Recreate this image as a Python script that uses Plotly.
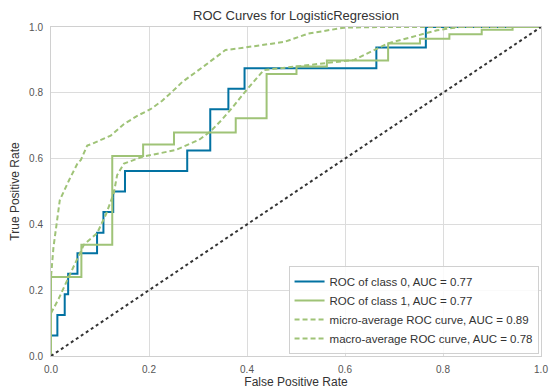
import plotly.graph_objects as go

# ROC of class 0 (step corners, horizontal-then-vertical)
fpr0 = [0, 0, 0.013, 0.028, 0.035, 0.054, 0.094, 0.107, 0.127, 0.151, 0.278, 0.325, 0.362, 0.395, 0.664, 0.765, 1.0]
tpr0 = [0, 0.0625, 0.125, 0.1875, 0.25, 0.3125, 0.375, 0.4375, 0.5, 0.5625, 0.625, 0.75, 0.8125, 0.875, 0.9375, 1.0, 1.0]

# ROC of class 1
fpr1 = [0, 0, 0.062, 0.125, 0.188, 0.251, 0.377, 0.44, 0.501, 0.563, 0.688, 0.753, 0.813, 0.879, 0.942, 1.0]
tpr1 = [0, 0.24, 0.338, 0.608, 0.643, 0.679, 0.723, 0.857, 0.88, 0.898, 0.95, 0.964, 0.978, 0.992, 1.0, 1.0]

# micro-average ROC
fpr_micro = [0, 0, 0.005, 0.009, 0.013, 0.018, 0.037, 0.045, 0.054, 0.061, 0.074, 0.084, 0.122, 0.149,
             0.176, 0.203, 0.227, 0.247, 0.268, 0.315, 0.356, 0.383, 0.477, 0.525, 0.598, 0.675, 1.0]
tpr_micro = [0, 0.24, 0.33, 0.38, 0.424, 0.474, 0.535, 0.56, 0.585, 0.596, 0.64, 0.645, 0.67, 0.705,
             0.73, 0.75, 0.776, 0.803, 0.833, 0.884, 0.93, 0.935, 0.955, 0.98, 0.998, 1.0, 1.0]

# macro-average ROC
fpr_macro = [0, 0.016, 0.033, 0.054, 0.067, 0.094, 0.112, 0.128, 0.135, 0.149, 0.188, 0.254, 0.302,
             0.325, 0.348, 0.369, 0.396, 0.434, 0.497, 0.619, 0.687, 0.753, 0.788, 0.834, 1.0]
tpr_macro = [0.13, 0.175, 0.23, 0.30, 0.338, 0.373, 0.43, 0.494, 0.55, 0.585, 0.606, 0.626, 0.657,
             0.682, 0.717, 0.753, 0.803, 0.869, 0.88, 0.9, 0.95, 0.975, 0.99, 1.0, 1.0]

diag = [0, 1]

tick_vals = [0, 0.2, 0.4, 0.6, 0.8, 1.0]
tick_text = ["0.0", "0.2", "0.4", "0.6", "0.8", "1.0"]

names = ["ROC of class 0, AUC = 0.77", "ROC of class 1, AUC = 0.77",
         "micro-average ROC curve, AUC = 0.89", "macro-average ROC curve, AUC = 0.78"]

BLUE = "#0272a2"
GREEN = "#9fc377"
FONT = "Liberation Sans, Arial, sans-serif"

fig = go.Figure()
fig.add_trace(go.Scatter(x=fpr0, y=tpr0, mode="lines", line=dict(color=BLUE, width=2, shape="hv"), name=names[0]))
fig.add_trace(go.Scatter(x=fpr1, y=tpr1, mode="lines", line=dict(color=GREEN, width=2, shape="hv"), name=names[1]))
fig.add_trace(go.Scatter(x=fpr_micro, y=tpr_micro, mode="lines", line=dict(color=GREEN, width=2, dash="5px,3px"), name=names[2]))
fig.add_trace(go.Scatter(x=fpr_macro, y=tpr_macro, mode="lines", line=dict(color=GREEN, width=2, dash="5px,3px"), name=names[3]))
fig.add_trace(go.Scatter(x=diag, y=diag, mode="lines", line=dict(color="#333333", width=2, dash="dot"), showlegend=False))

axis_common = dict(
    range=[0, 1], showgrid=True, gridcolor="#dcdcdc", gridwidth=1,
    showline=True, linecolor="#d0d0d0", linewidth=1, mirror=True,
    zeroline=False, ticks="", tickfont=dict(size=10, color="#555555", family=FONT),
    tickvals=tick_vals, ticktext=tick_text,
    automargin=False,
)

fig.update_layout(
    width=552, height=390,
    margin=dict(l=51, r=11, t=27, b=34),
    paper_bgcolor="white", plot_bgcolor="white",
    font=dict(family=FONT, color="#333333"),
    title=dict(text="ROC Curves for LogisticRegression", x=0.5, xref="paper", xanchor="center",
               y=1 - 15 / 390, yref="container", yanchor="middle",
               font=dict(size=13, color="#333333", family=FONT)),
    xaxis=dict(**axis_common, ticklabelstandoff=4,
               title=dict(text="False Positive Rate", standoff=3, font=dict(size=12, color="#333333"))),
    yaxis=dict(**axis_common, ticklabelstandoff=5,
               title=dict(text="True Positive Rate", standoff=6, font=dict(size=12, color="#333333"))),
    legend=dict(x=0.995, y=0.006, xanchor="right", yanchor="bottom",
                bgcolor="rgba(255,255,255,0.85)", bordercolor="#d0d0d0", borderwidth=1,
                font=dict(size=11.5, color="#333333", family=FONT), itemwidth=30,
                tracegroupgap=0),
    showlegend=True,
)

fig.write_html("out.html")
